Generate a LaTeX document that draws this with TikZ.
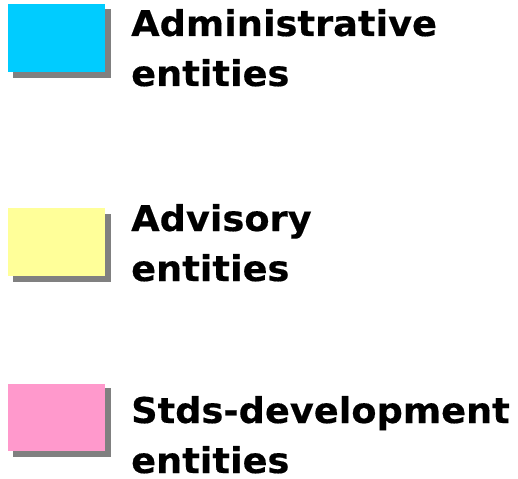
\documentclass[tikz,border=0pt]{standalone}
\usepackage{fontspec}
\newfontfamily\lblfont[FakeStretch=1.035,FakeBold=0.4]{DejaVu Sans Bold}
\definecolor{admcol}{HTML}{00CCFF}
\definecolor{advcol}{HTML}{FFFF99}
\definecolor{stdcol}{HTML}{FF99CC}
\definecolor{shadecol}{HTML}{808080}
\tikzset{
  legendbox/.style={fill=#1, draw=none},
  legendshadow/.style={fill=shadecol, draw=none},
  legendtext/.style={anchor=base west, inner sep=0pt, text depth=0pt, font=\lblfont\fontsize{35.5}{40}\selectfont}
}
\begin{document}
\begin{tikzpicture}[x=1pt,y=-1pt]
\useasboundingbox (0,0) rectangle (518,478);
% administrative
\fill[legendshadow] (13,9) rectangle (111,78);
\fill[legendbox=admcol] (8,4) rectangle (105,72);
\node[legendtext] (adm1) at (131,36) {Administrative};
\node[legendtext] (adm2) at (131,86) {entities};
% advisory
\fill[legendshadow] (13,214) rectangle (111,282);
\fill[legendbox=advcol] (8,208) rectangle (105,276);
\node[legendtext] (adv1) at (131,231) {Advisory};
\node[legendtext] (adv2) at (131,281) {entities};
% standards development
\fill[legendshadow] (13,388) rectangle (111,457);
\fill[legendbox=stdcol] (8,384) rectangle (105,451);
\node[legendtext] (std1) at (131,423) {Stds-development};
\node[legendtext] (std2) at (131,473) {entities};
\end{tikzpicture}
\end{document}
